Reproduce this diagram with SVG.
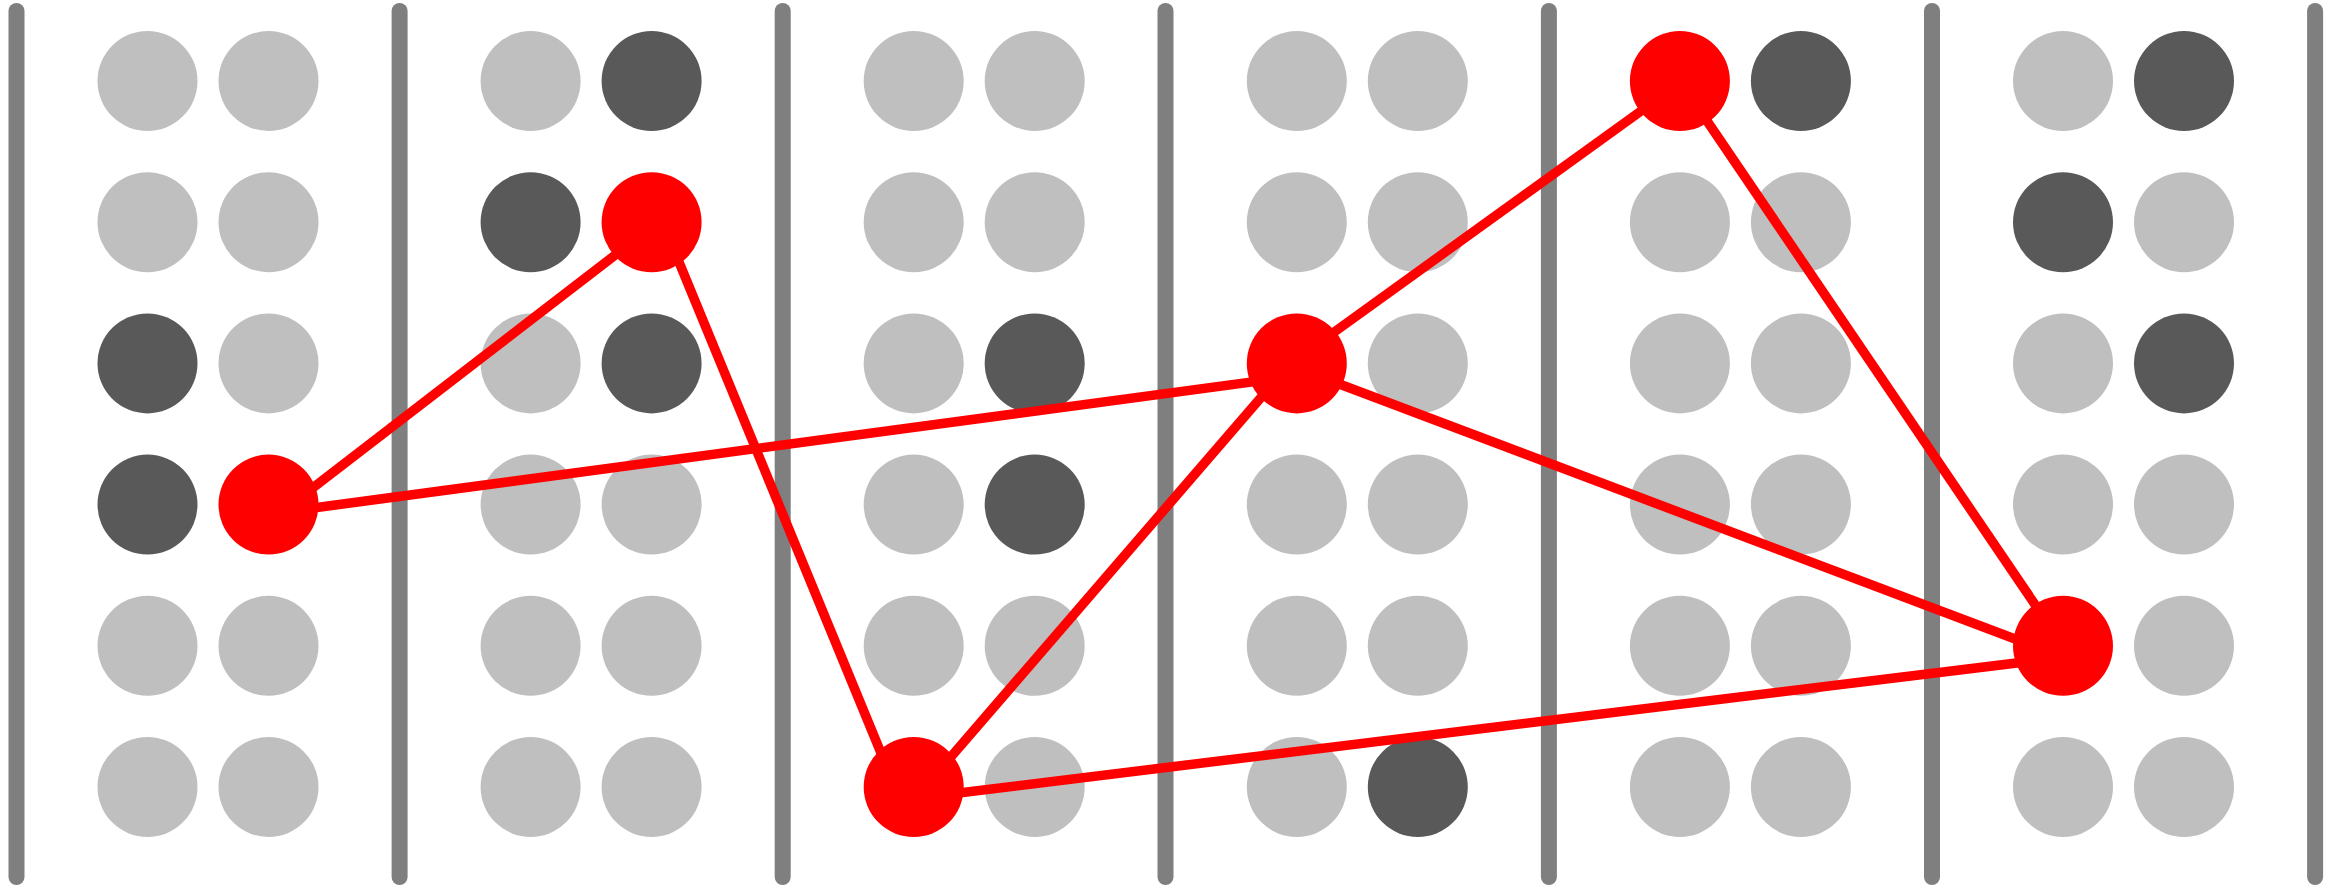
<svg xmlns="http://www.w3.org/2000/svg" width="2338" height="888" viewBox="0 0 2338 888">
<style>
.bar{stroke:#7f7f7f;stroke-width:16;stroke-linecap:round}
.l{fill:#bfbfbf}
.d{fill:#595959}
.r{fill:#ff0000}
.e{stroke:#ff0000;stroke-width:9.5;fill:none}
</style>
<rect width="2338" height="888" fill="#ffffff"/>
<g id="bars">
<line class="bar" x1="16.5" y1="11" x2="16.5" y2="877"/>
<line class="bar" x1="399.6" y1="11" x2="399.6" y2="877"/>
<line class="bar" x1="782.7" y1="11" x2="782.7" y2="877"/>
<line class="bar" x1="1165.5" y1="11" x2="1165.5" y2="877"/>
<line class="bar" x1="1548.9" y1="11" x2="1548.9" y2="877"/>
<line class="bar" x1="1932" y1="11" x2="1932" y2="877"/>
<line class="bar" x1="2315.1" y1="11" x2="2315.1" y2="877"/>
</g>
<g id="section0">
<circle class="l" cx="147.5" cy="81" r="50"/><circle class="l" cx="268.5" cy="81" r="50"/>
<circle class="l" cx="147.5" cy="222.2" r="50"/><circle class="l" cx="268.5" cy="222.2" r="50"/>
<circle class="d" cx="147.5" cy="363.4" r="50"/><circle class="l" cx="268.5" cy="363.4" r="50"/>
<circle class="d" cx="147.5" cy="504.6" r="50"/>
<circle class="l" cx="147.5" cy="645.8" r="50"/><circle class="l" cx="268.5" cy="645.8" r="50"/>
<circle class="l" cx="147.5" cy="787" r="50"/><circle class="l" cx="268.5" cy="787" r="50"/>
</g>
<g id="section1">
<circle class="l" cx="530.6" cy="81" r="50"/><circle class="d" cx="651.6" cy="81" r="50"/>
<circle class="d" cx="530.6" cy="222.2" r="50"/>
<circle class="l" cx="530.6" cy="363.4" r="50"/><circle class="d" cx="651.6" cy="363.4" r="50"/>
<circle class="l" cx="530.6" cy="504.6" r="50"/><circle class="l" cx="651.6" cy="504.6" r="50"/>
<circle class="l" cx="530.6" cy="645.8" r="50"/><circle class="l" cx="651.6" cy="645.8" r="50"/>
<circle class="l" cx="530.6" cy="787" r="50"/><circle class="l" cx="651.6" cy="787" r="50"/>
</g>
<g id="section2">
<circle class="l" cx="913.7" cy="81" r="50"/><circle class="l" cx="1034.7" cy="81" r="50"/>
<circle class="l" cx="913.7" cy="222.2" r="50"/><circle class="l" cx="1034.7" cy="222.2" r="50"/>
<circle class="l" cx="913.7" cy="363.4" r="50"/><circle class="d" cx="1034.7" cy="363.4" r="50"/>
<circle class="l" cx="913.7" cy="504.6" r="50"/><circle class="d" cx="1034.7" cy="504.6" r="50"/>
<circle class="l" cx="913.7" cy="645.8" r="50"/><circle class="l" cx="1034.7" cy="645.8" r="50"/>
<circle class="l" cx="1034.7" cy="787" r="50"/>
</g>
<g id="section3">
<circle class="l" cx="1296.8" cy="81" r="50"/><circle class="l" cx="1417.8" cy="81" r="50"/>
<circle class="l" cx="1296.8" cy="222.2" r="50"/><circle class="l" cx="1417.8" cy="222.2" r="50"/>
<circle class="l" cx="1417.8" cy="363.4" r="50"/>
<circle class="l" cx="1296.8" cy="504.6" r="50"/><circle class="l" cx="1417.8" cy="504.6" r="50"/>
<circle class="l" cx="1296.8" cy="645.8" r="50"/><circle class="l" cx="1417.8" cy="645.8" r="50"/>
<circle class="l" cx="1296.8" cy="787" r="50"/><circle class="d" cx="1417.8" cy="787" r="50"/>
</g>
<g id="section4">
<circle class="d" cx="1800.9" cy="81" r="50"/>
<circle class="l" cx="1679.9" cy="222.2" r="50"/><circle class="l" cx="1800.9" cy="222.2" r="50"/>
<circle class="l" cx="1679.9" cy="363.4" r="50"/><circle class="l" cx="1800.9" cy="363.4" r="50"/>
<circle class="l" cx="1679.9" cy="504.6" r="50"/><circle class="l" cx="1800.9" cy="504.6" r="50"/>
<circle class="l" cx="1679.9" cy="645.8" r="50"/><circle class="l" cx="1800.9" cy="645.8" r="50"/>
<circle class="l" cx="1679.9" cy="787" r="50"/><circle class="l" cx="1800.9" cy="787" r="50"/>
</g>
<g id="section5">
<circle class="l" cx="2063" cy="81" r="50"/><circle class="d" cx="2184" cy="81" r="50"/>
<circle class="d" cx="2063" cy="222.2" r="50"/><circle class="l" cx="2184" cy="222.2" r="50"/>
<circle class="l" cx="2063" cy="363.4" r="50"/><circle class="d" cx="2184" cy="363.4" r="50"/>
<circle class="l" cx="2063" cy="504.6" r="50"/><circle class="l" cx="2184" cy="504.6" r="50"/>
<circle class="l" cx="2184" cy="645.8" r="50"/>
<circle class="l" cx="2063" cy="787" r="50"/><circle class="l" cx="2184" cy="787" r="50"/>
</g>
<g id="connectors">
<line class="e" x1="268.5" y1="522" x2="651.6" y2="227"/>
<line class="e" x1="268.5" y1="514" x2="1296.8" y2="376"/>
<line class="e" x1="662.6" y1="222.2" x2="895" y2="787"/>
<line class="e" x1="913.7" y1="800" x2="1296.8" y2="356"/>
<line class="e" x1="913.7" y1="798.5" x2="2063" y2="657.3"/>
<line class="e" x1="1296.8" y1="359" x2="1679.9" y2="83"/>
<line class="e" x1="1296.8" y1="368" x2="2063" y2="657"/>
<line class="e" x1="1679.9" y1="81" x2="2063" y2="645.8"/>
</g>
<g id="red-nodes">
<circle id="n0" class="r" cx="268.5" cy="504.6" r="50"/>
<circle id="n1" class="r" cx="651.6" cy="222.2" r="50"/>
<circle id="n2" class="r" cx="913.7" cy="787" r="50"/>
<circle id="n3" class="r" cx="1296.8" cy="363.4" r="50"/>
<circle id="n4" class="r" cx="1679.9" cy="81" r="50"/>
<circle id="n5" class="r" cx="2063" cy="645.8" r="50"/>
</g>
</svg>
